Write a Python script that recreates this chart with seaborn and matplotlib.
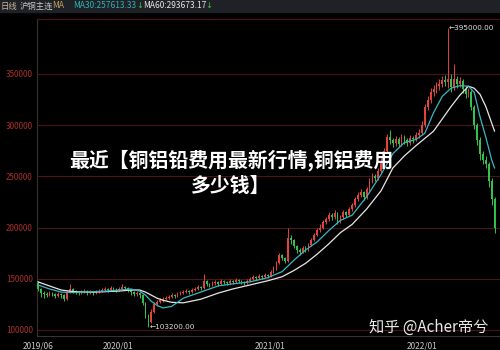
import numpy as np
import pandas as pd
import matplotlib
matplotlib.use("Agg")
import matplotlib.pyplot as plt
import matplotlib.dates as mdates
from matplotlib.patches import Rectangle
import seaborn as sns

# ---------------- data (prices in thousands) ----------------
first_open = 146
closes = [140, 136, 135, 134, 136, 135, 133, 135, 134, 130,
          137, 140, 138, 137, 136, 137, 138, 136, 137, 136,
          137, 138, 139, 140, 139, 141, 140, 139, 140, 142,
          141, 139, 137, 135, 136, 134, 126, 115, 108, 118,
          125, 127, 129, 130, 131, 132, 134, 133, 135, 136,
          137, 138, 137, 139, 140, 142, 141, 148, 145, 144,
          146, 147, 145, 148, 147, 146, 148, 147, 149, 148,
          147, 146, 148, 150, 152, 151, 153, 152, 154, 153,
          157, 160, 165, 173, 170, 167, 190, 188, 182, 178,
          176, 180, 178, 183, 188, 193, 198, 200, 205, 208,
          212, 210, 214, 206, 210, 215, 212, 218, 222, 228,
          232, 235, 230, 238, 245, 250, 248, 255, 265, 275,
          288, 285, 283, 286, 282, 288, 285, 283, 287, 286,
          290, 292, 300, 318, 325, 332, 335, 338, 340, 344,
          342, 345, 337, 345, 340, 343, 335, 330, 332, 318,
          300, 285, 272, 266, 262, 245, 228, 200]
highs = [148, 141, 138, 137, 138, 137, 136, 137, 136, 135,
         139, 145, 141, 139, 138, 139, 140, 139, 139, 138,
         139, 140, 141, 142, 141, 143, 142, 141, 142, 145,
         143, 142, 140, 138, 138, 137, 135, 127, 116, 120,
         127, 129, 131, 132, 133, 134, 136, 135, 137, 138,
         139, 140, 139, 141, 142, 144, 143, 155, 149, 146,
         148, 149, 148, 150, 149, 148, 150, 149, 151, 150,
         149, 148, 150, 152, 154, 153, 155, 154, 156, 155,
         159, 162, 167, 175, 174, 171, 200, 193, 189, 183,
         180, 182, 182, 185, 190, 195, 200, 203, 207, 210,
         215, 214, 217, 215, 212, 217, 216, 220, 224, 230,
         235, 238, 236, 240, 248, 253, 252, 258, 268, 278,
         291, 295, 287, 289, 288, 291, 290, 287, 290, 289,
         293, 296, 304, 321, 328, 336, 339, 342, 345, 348,
         349, 395, 350, 360, 348, 347, 345, 338, 336, 334,
         320, 302, 288, 275, 270, 264, 248, 230]
lows = [138, 132, 131, 132, 133, 133, 131, 132, 131, 128,
        129, 136, 136, 135, 134, 135, 136, 134, 135, 134,
        135, 136, 137, 138, 137, 138, 138, 137, 138, 139,
        139, 137, 134, 133, 133, 131, 124, 112, 103.2, 107,
        117, 123, 126, 127, 129, 130, 131, 131, 132, 134,
        135, 136, 135, 136, 138, 139, 139, 140, 143, 142,
        143, 144, 143, 144, 145, 144, 145, 145, 146, 146,
        145, 144, 145, 147, 149, 149, 150, 150, 151, 151,
        152, 156, 159, 164, 168, 165, 166, 184, 180, 175,
        173, 175, 176, 177, 182, 187, 192, 196, 199, 203,
        206, 207, 208, 203, 204, 208, 210, 211, 216, 220,
        226, 230, 227, 228, 236, 243, 245, 246, 253, 262,
        273, 282, 279, 280, 279, 280, 282, 280, 281, 283,
        284, 287, 290, 298, 315, 322, 328, 331, 334, 337,
        338, 336, 332, 334, 336, 337, 331, 326, 327, 315,
        296, 281, 266, 262, 258, 240, 222, 195]

ma_idx = [0, 4, 8, 12, 16, 20, 24, 28, 32, 35, 37, 39, 41, 43, 46, 50,
          56, 62, 67, 73, 79, 84, 88, 92, 96, 100, 104, 108, 113, 118,
          122, 126, 130, 133, 136, 139, 142, 145, 148, 150, 152, 154, 156, 157]
ma30 = [144, 140, 137, 136.5, 137, 137.5, 138, 139, 140, 138, 134, 128,
        124, 121.5, 123, 131, 137, 143, 145, 147, 151, 157, 168, 178,
        186, 197, 207, 212, 230, 252, 272, 283, 286, 292, 312, 328,
        336, 338.5, 338, 332, 308, 288, 266, 258]
ma60 = [147, 143, 139, 137.5, 137, 137, 137.5, 138, 139, 139, 137, 134,
        131, 129, 127, 126.5, 130, 136, 140, 144, 148, 152, 158, 165,
        174, 184, 195, 203, 218, 236, 258, 270, 280, 287, 294, 306,
        318, 329, 338, 336, 330, 318, 302, 294]

tick_dates = ["2019-06-21", "2020-01-01", "2021-01-01", "2022-01-01"]
tick_labels = ["2019/06", "2020/01", "2021/01", "2022/01"]
y_ticks = [100000, 150000, 200000, 250000, 300000, 350000]
peak_value = 395000
low_value = 103200

title_lines = ["最近【铜铝铅费用最新行情,铜铝费用", "多少钱】"]
watermark = "知乎 @Acher帝兮"

# ---------------- style ----------------
sns.set_theme(style="dark", rc={
    "axes.facecolor": "black",
    "figure.facecolor": "black",
    "savefig.facecolor": "black",
    "axes.edgecolor": "#3a2a2a",
    "axes.grid": False,
})
plt.rcParams["font.family"] = ["Noto Sans CJK SC", "DejaVu Sans"]

fig = plt.figure(figsize=(5, 3.5), dpi=100)
ax = fig.add_axes([0.074, 0.04, 0.926, 0.906])
ax.set_facecolor("black")

dates = pd.date_range("2019-06-21", periods=len(closes), freq="7D")
xn = mdates.date2num(dates.to_pydatetime())
c = np.array(closes, dtype=float) * 1000
o = np.array([first_open] + closes[:-1], dtype=float) * 1000
h = np.array(highs, dtype=float) * 1000
l = np.array(lows, dtype=float) * 1000
up = c >= o
cols = np.where(up, "#e2443c", "#35c24a")

# horizontal grid
for yt in y_ticks:
    ax.axhline(yt, color="#4a1418", lw=0.8, zorder=0)

ax.vlines(xn, l, h, colors=cols, lw=0.7, zorder=2)
body_h = np.maximum(np.abs(c - o), 600)
ax.bar(xn, body_h, bottom=np.minimum(o, c), width=4.0, color=cols,
       linewidth=0, zorder=3)

ma_df = pd.DataFrame({
    "x": xn[ma_idx],
    "ma30": np.array(ma30) * 1000,
    "ma60": np.array(ma60) * 1000,
})
sns.lineplot(data=ma_df, x="x", y="ma60", color="#e6e6e6", lw=0.9, ax=ax, zorder=4)
sns.lineplot(data=ma_df, x="x", y="ma30", color="#38b6c4", lw=0.9, ax=ax, zorder=5)

x_left = mdates.date2num(pd.Timestamp("2019-06-19"))
x_right = mdates.date2num(pd.Timestamp("2022-07-07"))
ax.set_xlim(x_left, x_right)
ax.set_ylim(94100, 403700)

ax.set_yticks(y_ticks)
ax.set_yticklabels([str(v) for v in y_ticks], color="#a8302c", fontsize=5.8)
ax.set_xticks(mdates.date2num(pd.to_datetime(tick_dates).to_pydatetime()))
ax.set_xticklabels(tick_labels, color="#c8c8c8", fontsize=6)
ax.tick_params(axis="y", length=0, pad=3)
ax.tick_params(axis="x", length=2.5, width=0.6, color="#9a9a9a", pad=1.5)
ax.set_xlabel("")
ax.set_ylabel("")
for side in ["left", "bottom"]:
    ax.spines[side].set_color("#3a3030")
    ax.spines[side].set_linewidth(0.8)
ax.spines["top"].set_color("#4a1418")
ax.spines["top"].set_linewidth(0.9)
ax.spines["right"].set_visible(False)

# annotations of extremes
pk = int(np.argmax(h))
lo = int(np.argmin(l))
ax.text(xn[pk] + 2, peak_value, "←" + f"{peak_value:.2f}", color="#e0e0e0",
        fontsize=5.2, va="center", ha="left", family=["DejaVu Sans"], zorder=6)
ax.text(xn[lo] + 2, low_value, "←" + f"{low_value:.2f}", color="#e0e0e0",
        fontsize=5.2, va="center", ha="left", family=["DejaVu Sans"], zorder=6)

# header bar
fig.patches.append(Rectangle((0, 1 - 12 / 350), 1, 12 / 350, transform=fig.transFigure,
                             color="#1e2126", zorder=0))
hy = 1 - 6 / 350
fig.text(0.002, hy, "日线", color="#c9b79a", fontsize=6, va="center")
fig.text(0.040, hy, "沪铜主连", color="#c9c9c9", fontsize=6, va="center")
fig.text(0.104, hy, "MA", color="#c8a060", fontsize=6, va="center")
fig.text(0.146, hy, "MA30:257613.33", color="#2fb3b8", fontsize=6, va="center")
fig.text(0.273, hy, "↓", color="#35c24a", fontsize=6, va="center", family=["DejaVu Sans"])
fig.text(0.286, hy, "MA60:293673.17", color="#e8e8e8", fontsize=6, va="center")
fig.text(0.411, hy, "↓", color="#35c24a", fontsize=6, va="center", family=["DejaVu Sans"])

# overlay title
fig.text(0.462, 1 - 160 / 350, title_lines[0], color="white", fontsize=14.3,
         weight="bold", ha="center", va="center")
fig.text(0.462, 1 - 185 / 350, title_lines[1], color="white", fontsize=14.3,
         weight="bold", ha="center", va="center")

# watermark
fig.text(0.857, 1 - 327 / 350, watermark, color="white", fontsize=11,
         ha="center", va="center", alpha=0.92)

fig.savefig("out.png", dpi=100, facecolor="black")
